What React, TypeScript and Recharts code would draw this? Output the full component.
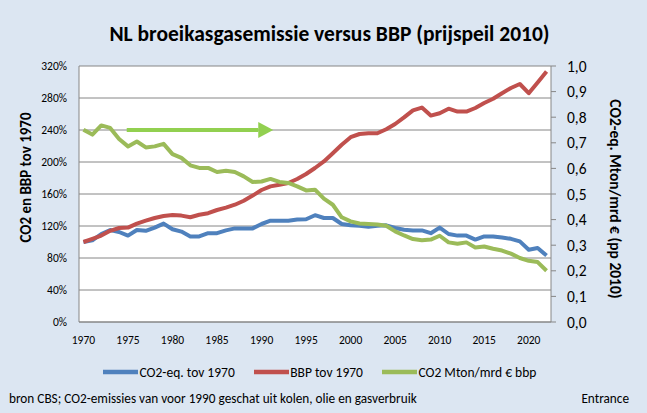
import React from 'react';
import { LineChart, Line, XAxis, YAxis, CartesianGrid, Legend, ReferenceLine, ReferenceDot } from 'recharts';

const years = [
  1970, 1971, 1972, 1973, 1974, 1975, 1976, 1977, 1978, 1979,
  1980, 1981, 1982, 1983, 1984, 1985, 1986, 1987, 1988, 1989,
  1990, 1991, 1992, 1993, 1994, 1995, 1996, 1997, 1998, 1999,
  2000, 2001, 2002, 2003, 2004, 2005, 2006, 2007, 2008, 2009,
  2010, 2011, 2012, 2013, 2014, 2015, 2016, 2017, 2018, 2019,
  2020, 2021, 2022,
];

// CO2-eq. emission index (1970 = 100%)
const co2Index = [
  100, 102, 110, 115, 112.5, 108, 115, 114, 118, 123,
  116, 113, 107, 107, 111, 111, 114.5, 117, 117, 117,
  122.5, 126.6, 126.6, 126.6, 128, 128.5, 133.5, 130, 130, 122.5,
  121, 120.4, 119, 120.4, 120.8, 117.5, 115.4, 114.5, 114.5, 111,
  118, 110, 108, 108, 103, 107, 107, 105.7, 104, 100.8,
  90.4, 92.5, 83,
];

// BBP (GDP) index (1970 = 100%)
const gdpIndex = [
  100, 104, 108, 114, 117.5, 118, 123, 126.6, 130, 132.5,
  133.7, 133, 131, 134, 136, 140, 143, 146.6, 151.6, 158,
  165, 169.5, 171.6, 173.7, 178.7, 185, 192.5, 200.7, 211, 221.6,
  231, 235, 236, 236, 241, 247.5, 255.7, 264.5, 268, 258,
  261, 266.6, 263, 263, 267.5, 273.7, 279, 286, 292.5, 297.5,
  286, 299.5, 313,
];

// CO2 Mton per mrd euro bbp
const intensity = [
  0.751, 0.732, 0.768, 0.758, 0.715, 0.686, 0.705, 0.682, 0.686, 0.696,
  0.656, 0.641, 0.612, 0.602, 0.602, 0.586, 0.591, 0.586, 0.569, 0.547,
  0.549, 0.559, 0.547, 0.543, 0.530, 0.514, 0.517, 0.482, 0.458, 0.409,
  0.393, 0.385, 0.383, 0.381, 0.376, 0.354, 0.338, 0.324, 0.319, 0.322,
  0.337, 0.311, 0.306, 0.311, 0.291, 0.295, 0.286, 0.279, 0.267, 0.250,
  0.239, 0.234, 0.200,
];

const leftTicks = [0, 40, 80, 120, 160, 200, 240, 280, 320];
const rightTicks = [0, 0.1, 0.2, 0.3, 0.4, 0.5, 0.6, 0.7, 0.8, 0.9, 1.0];
const yearLabels = [1970, 1975, 1980, 1985, 1990, 1995, 2000, 2005, 2010, 2015, 2020];

const seriesNames = ['CO2-eq. tov 1970', 'BBP tov 1970', 'CO2 Mton/mrd € bbp'];
const seriesColors = ['#4F81BD', '#C0504D', '#9BBB59'];
const titleText = 'NL broeikasgasemissie versus BBP (prijspeil 2010)';
const leftTitle = 'CO2 en BBP tov 1970';
const rightTitle = 'CO2-eq. Mton/mrd €  (pp 2010)';
const sourceText = 'bron CBS; CO2-emissies van voor 1990 geschat uit kolen, olie en gasverbruik';
const creditText = 'Entrance';

// arrow annotation (in data units)
const arrowStart = 1974.86;
const arrowHead = 1989.63;
const arrowLevel = 240;

const data = years.map((y, i) => ({
  year: y,
  co2: co2Index[i],
  bbp: gdpIndex[i],
  int: intensity[i],
}));

const FONT = 'Carlito, Calibri, Lato, sans-serif';
const BG = '#DCE6F2';
const GRID = '#868686';

const renderLegend = (props: any) => {
  const payload: any[] = props.payload || [];
  const items = seriesNames.map((name, i) => {
    const found = payload.find((p) => p.value === name);
    return { name, color: found ? found.color : seriesColors[i] };
  });
  return (
    <div style={{ display: 'flex', alignItems: 'center', height: 16, fontFamily: FONT, fontSize: 13.5, color: '#000' }}>
      {items.map((p, i) => (
        <div key={i} style={{ display: 'flex', alignItems: 'center', marginRight: 19 }}>
          <svg width={35} height={6} style={{ display: 'block' }}>
            <line x1={0} y1={3} x2={35} y2={3} stroke={p.color} strokeWidth={4.5} />
          </svg>
          <span style={{ marginLeft: 1.5, whiteSpace: 'nowrap' }}>{p.name}</span>
        </div>
      ))}
    </div>
  );
};

const Arrowhead = (props: any) => {
  const { cx, cy } = props;
  return <polygon points={`${cx},${cy - 8} ${cx + 15},${cy} ${cx},${cy + 8}`} fill="#92D050" />;
};

export default function App() {
  return (
    <div style={{ position: 'absolute', left: 0, top: 0, width: 647, height: 413, background: BG, overflow: 'hidden', fontFamily: FONT }}>
      <div style={{ position: 'absolute', left: 0, width: 659, top: 20.5, lineHeight: 'normal', textAlign: 'center', fontWeight: 'bold', fontSize: 21.5, color: '#000', whiteSpace: 'nowrap' }}>
        {titleText}
      </div>
      <LineChart width={647} height={413} data={data} margin={{ top: 66, right: 0, bottom: 61, left: 0 }} style={{ position: 'absolute', left: 0, top: 0 }}>
        <CartesianGrid yAxisId="left" vertical={false} stroke={GRID} fill="#FFFFFF" fillOpacity={1} />
        <XAxis
          type="number"
          dataKey="year"
          domain={[1969.5, 2022.5]}
          ticks={yearLabels}
          interval={0}
          allowDataOverflow
          height={30}
          tickLine={false}
          tickSize={0}
          tickMargin={13.5}
          axisLine={{ stroke: GRID }}
          tick={{ fontSize: 11.5, fill: '#000', fontFamily: FONT }}
        />
        <YAxis
          yAxisId="left"
          domain={[0, 320]}
          ticks={leftTicks}
          interval={0}
          width={79}
          tickFormatter={(v: number) => `${v}%`}
          tickLine={false}
          tickSize={0}
          tickMargin={12}
          axisLine={{ stroke: GRID }}
          tick={{ fontSize: 11.5, fill: '#000', fontFamily: FONT }}
          label={{
            content: () => (
              <text x={26} y={177.5} transform="rotate(-90 26 177.5)" textAnchor="middle" dominantBaseline="central" fontWeight="bold" fontSize={15} fontFamily={FONT} fill="#000">
                {leftTitle}
              </text>
            ),
          }}
        />
        <YAxis
          yAxisId="right"
          orientation="right"
          domain={[0, 1]}
          ticks={rightTicks}
          interval={0}
          width={96}
          tickFormatter={(v: number) => v.toFixed(1).replace('.', ',')}
          tickSize={5}
          tickMargin={11}
          tickLine={{ stroke: GRID }}
          axisLine={{ stroke: GRID }}
          tick={{ fontSize: 15.5, fill: '#000', fontFamily: FONT }}
          label={{
            content: () => (
              <text x={615} y={199} transform="rotate(90 615 199)" textAnchor="middle" dominantBaseline="central" fontWeight="bold" fontSize={15.5} fontFamily={FONT} fill="#000">
                {rightTitle}
              </text>
            ),
          }}
        />
        <Line yAxisId="left" type="linear" dataKey="co2" name={seriesNames[0]} stroke={seriesColors[0]} strokeWidth={4} strokeLinejoin="round" dot={false} isAnimationActive={false} />
        <Line yAxisId="left" type="linear" dataKey="bbp" name={seriesNames[1]} stroke={seriesColors[1]} strokeWidth={4} strokeLinejoin="round" dot={false} isAnimationActive={false} />
        <Line yAxisId="right" type="linear" dataKey="int" name={seriesNames[2]} stroke={seriesColors[2]} strokeWidth={4} strokeLinejoin="round" dot={false} isAnimationActive={false} />
        <ReferenceLine yAxisId="left" segment={[{ x: arrowStart, y: arrowLevel }, { x: arrowHead, y: arrowLevel }]} stroke="#92D050" strokeWidth={4} />
        <ReferenceDot yAxisId="left" x={arrowHead} y={arrowLevel} shape={Arrowhead} />
        <Legend layout="horizontal" verticalAlign="middle" align="center" wrapperStyle={{ left: 103, top: 364, width: 520 }} content={renderLegend} />
      </LineChart>
      <div style={{ position: 'absolute', left: 9, top: 390, lineHeight: 'normal', fontSize: 13.25, color: '#000', whiteSpace: 'nowrap' }}>{sourceText}</div>
      <div style={{ position: 'absolute', right: 18, top: 390, lineHeight: 'normal', fontSize: 13.25, color: '#000', whiteSpace: 'nowrap' }}>{creditText}</div>
    </div>
  );
}
